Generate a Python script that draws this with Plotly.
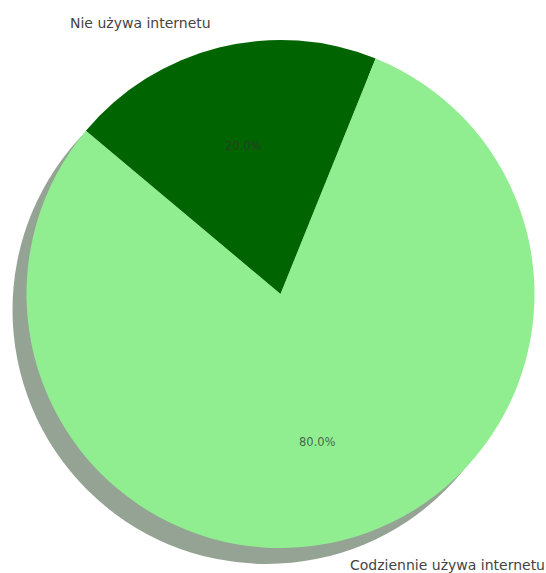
import math
import plotly.graph_objects as go

labels = ["Nie używa internetu", "Codziennie używa internetu"]
values = [20, 80]
colors = ["#006400", "#90EE90"]

W, H = 546, 573
# pie geometry in pixels (layout)
CX, CY, R = 280.5, 294.0, 254.0
START_ANGLE = 140.0  # math degrees, slices go clockwise
SHADOW_DX, SHADOW_DY = -14.0, 16.0


def px_to_paper(x, y):
    return x / W, 1 - y / H


fig = go.Figure()
fig.add_trace(go.Pie(
    labels=labels,
    values=values,
    marker=dict(colors=colors, line=dict(width=0)),
    sort=False,
    direction="clockwise",
    rotation=90 - START_ANGLE,
    textinfo="none",
    hoverinfo="label+percent",
    showlegend=False,
    domain=dict(x=[(CX - R) / W, (CX + R) / W], y=[1 - (CY + R) / H, 1 - (CY - R) / H]),
))

# shadow
sx0, sy1 = px_to_paper(CX + SHADOW_DX - R, CY + SHADOW_DY - R)
sx1, sy0 = px_to_paper(CX + SHADOW_DX + R, CY + SHADOW_DY + R)
fig.add_shape(type="circle", xref="paper", yref="paper", x0=sx0, x1=sx1, y0=sy0, y1=sy1,
              fillcolor="#95A395", line=dict(width=0), layer="below")

total = sum(values)
ang = START_ANGLE
annotations = []
for lab, v in zip(labels, values):
    span = 360.0 * v / total
    mid = math.radians(ang - span / 2)
    ang -= span
    # outer label at 1.1 r
    lx, ly = CX + 1.1 * R * math.cos(mid), CY - 1.1 * R * math.sin(mid)
    px, py = px_to_paper(lx, ly)
    annotations.append(dict(x=px, y=py, xref="paper", yref="paper", text=lab, showarrow=False,
                            xanchor="right" if math.cos(mid) < 0 else "left", yanchor="middle",
                            font=dict(family="DejaVu Sans", size=14, color="#444444")))
    # percent label at 0.6 r
    tx, ty = CX + 0.6 * R * math.cos(mid), CY - 0.6 * R * math.sin(mid)
    qx, qy = px_to_paper(tx, ty)
    annotations.append(dict(x=qx, y=qy, xref="paper", yref="paper", text=f"{100 * v / total:.1f}%",
                            showarrow=False, xanchor="center", yanchor="middle",
                            font=dict(family="DejaVu Sans", size=11.5, color="rgba(50,50,50,0.75)")))

fig.update_layout(
    width=W, height=H,
    margin=dict(l=0, r=0, t=0, b=0),
    paper_bgcolor="white", plot_bgcolor="white",
    annotations=annotations,
)

fig.write_html(
    "out.html",
    config={"displayModeBar": False},
    post_script="document.body.style.margin='0';document.body.style.overflow='hidden';",
)
